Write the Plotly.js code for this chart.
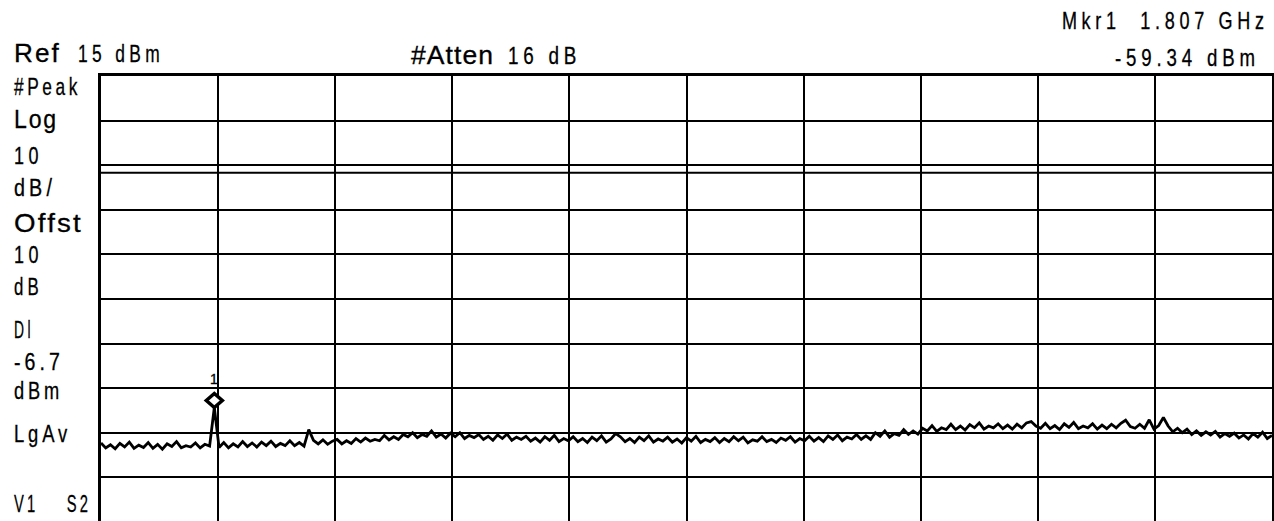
<!DOCTYPE html>
<html>
<head>
<meta charset="utf-8">
<script src="https://cdn.plot.ly/plotly-3.0.1.min.js"></script>
<style>
html,body{margin:0;padding:0;background:#fff;}
#chart{width:1274px;height:521px;}
#chart .annotation-text{stroke:#000;stroke-width:0.3px;}
</style>
</head>
<body>
<div id="chart"></div>
<script>
// ---- data ----
const refLevel = 15;          // dBm (top of screen)
const dbPerDiv = 10;
const bottomLevel = -84.8;    // visible bottom of screen
const startFreq = 1.795;      // GHz
const stopFreq = 1.919;       // GHz
const displayLine = -6.7;     // dBm
const mkrFreq = 1.807;        // GHz
const mkrLevel = -59.34;      // dBm
const traceLevels = [
  -67.3,-68.4,-67.7,-68.6,-67.4,-68.2,-67.1,-68.5,-67.8,-68.3,
  -67.2,-68.5,-67.6,-68.7,-67.5,-68.1,-67.0,-68.4,-67.9,-68.2,
  -67.3,-68.4,-67.6,-68.0,-59.34,-68.3,-67.2,-68.4,-67.5,-68.2,
  -67.0,-68.1,-67.3,-68.2,-67.1,-67.9,-66.9,-68.1,-67.4,-67.9,
  -66.8,-67.9,-67.2,-68.0,-64.3,-66.7,-67.5,-66.6,-67.6,-66.9,
  -66.5,-67.5,-66.8,-67.4,-66.3,-67.1,-66.2,-66.9,-66.5,-66.8,
  -65.6,-66.6,-65.9,-66.5,-65.4,-65.9,-65.0,-66.1,-65.4,-65.8,
  -64.6,-66.0,-65.3,-66.2,-65.1,-65.9,-65.0,-66.3,-65.6,-66.1,
  -65.4,-66.5,-65.8,-66.7,-65.5,-66.3,-65.3,-66.7,-66.0,-66.5,
  -65.8,-66.9,-66.2,-67.1,-65.9,-66.7,-65.6,-67.0,-66.3,-66.8,
  -65.9,-67.0,-66.3,-67.2,-66.0,-66.8,-65.7,-67.1,-66.4,-65.2,
  -65.9,-67.0,-66.3,-67.2,-66.0,-66.8,-65.7,-67.1,-66.4,-66.9,
  -66.0,-67.1,-66.4,-67.3,-66.1,-66.9,-65.8,-67.2,-66.5,-67.0,
  -66.1,-67.2,-66.3,-67.0,-65.9,-66.8,-66.0,-67.3,-66.6,-66.9,
  -65.9,-67.0,-66.5,-67.2,-66.2,-66.7,-65.9,-67.1,-66.3,-66.8,
  -65.8,-66.9,-66.1,-67.0,-65.7,-66.5,-65.5,-66.8,-66.0,-66.4,
  -65.4,-66.5,-65.7,-66.5,-65.0,-65.8,-64.6,-66.0,-65.2,-65.6,
  -64.3,-65.4,-64.6,-65.3,-64.0,-64.6,-63.4,-64.7,-63.9,-64.3,
  -63.1,-64.3,-63.5,-64.4,-63.2,-63.9,-62.8,-64.2,-63.5,-63.9,
  -63.0,-64.1,-63.3,-64.2,-63.1,-63.9,-62.8,-62.5,-63.5,-64.0,
  -62.9,-64.1,-63.4,-64.3,-63.0,-63.8,-62.7,-64.1,-63.5,-63.9,
  -63.0,-64.2,-63.3,-64.1,-63.1,-63.9,-62.9,-62.2,-63.6,-64.0,
  -63.1,-64.0,-62.1,-64.2,-63.4,-61.6,-63.5,-64.8,-64.0,-65.0,
  -64.2,-65.4,-64.6,-65.6,-64.8,-65.5,-64.7,-66.0,-65.2,-65.8,
  -65.1,-66.2,-65.5,-66.4,-65.2,-66.0,-64.9,-66.3,-65.6
];
const leftLabels = ['#Peak','Log','10','dB/','Offst','10','dB','Dl','-6.7','dBm','LgAv','V1  S2'];
const headerRef = 'Ref';
const headerRefVal = '15 dBm';
const headerAtten = '#Atten';
const headerAttenVal = '16 dB';
const mkrLine1 = 'Mkr1  1.807 GHz';
const mkrLine2 = '-59.34 dBm';
const mkrLabel = '1';

// ---- layout helpers ----
const W = 1274, H = 521, L = 101, R = 2, T = 76, B = 0;
const pw = W - L - R, ph = H - T - B;
const px = x => (x - L) / pw;
const py = y => (H - B - y) / ph;
const FONT = '"Liberation Sans",Arial,"DejaVu Sans",sans-serif';

const annotations = [];
const fits = [];   // target rendered widths (px) used to condense the lettering
function ann(text, x, y, size, spacing, width, anchor) {
  annotations.push({
    text: '<span style="letter-spacing:' + spacing + 'px">' + text + '</span>',
    xref: 'paper', yref: 'paper', x: px(x), y: py(y),
    xanchor: anchor || 'left', yanchor: 'middle', showarrow: false,
    borderpad: 0, font: {family: FONT, size: size, color: '#000'}
  });
  fits.push({w: width, anchor: anchor || 'left'});
}

// left column: [centre y, size, letter spacing, width]
const leftFmt = [
  [86, 24, 5, 67], [119, 25, 2, 44], [155, 24, 6, 29], [187, 24, 5, 42],
  [223, 25, 2, 69], [254, 24, 6, 29], [286, 24, 6, 29], [329, 24, 6, 20],
  [361, 24, 5, 50], [390, 24, 5, 49], [433, 24, 5, 57], [503, 24, 5, 77]
];
leftLabels.forEach((t, i) => {
  const f = leftFmt[i];
  ann(t.replace(/  /g, '&nbsp;&nbsp;&nbsp;&nbsp;'), 13, f[0], f[1], f[2], f[3]);
});
ann(headerRef, 13, 53, 25, 2, 47);
ann(headerRefVal, 77, 53, 24, 6, 86);
ann(headerAtten, 410, 55, 25, 1, 83);
ann(headerAttenVal, 507, 55, 24, 6, 73);
ann(mkrLine1.replace(/  /g, '&nbsp;&nbsp;'), 1270, 21, 23, 6, 207, 'right');
ann(mkrLine2, 1261, 58, 23, 6, 145, 'right');
annotations.push({
  text: mkrLabel, x: mkrFreq, y: mkrLevel, xref: 'x', yref: 'y',
  showarrow: false, yshift: 28, font: {family: FONT, size: 14, color: '#000'}
});

const shapes = [
  {type: 'line', xref: 'paper', yref: 'y', x0: 0, x1: 1, y0: displayLine, y1: displayLine,
   line: {color: '#000', width: 2}},
  {type: 'path', xref: 'x', yref: 'y', xsizemode: 'pixel', ysizemode: 'pixel',
   xanchor: mkrFreq, yanchor: mkrLevel,
   path: 'M0,0 L8,7 L0,14 L-8,7 Z',
   line: {color: '#000', width: 3.5}, fillcolor: 'rgba(255,255,255,1)'}
];

const nPts = traceLevels.length;
const trace = {
  type: 'scatter', mode: 'lines',
  x0: startFreq, dx: (stopFreq - startFreq) / (nPts - 1),
  y: traceLevels,
  line: {color: '#000', width: 2.8},
  hoverinfo: 'skip'
};

const layout = {
  width: W, height: H,
  margin: {l: L, r: R, t: T, b: B, pad: 0},
  paper_bgcolor: '#fff', plot_bgcolor: '#fff',
  showlegend: false,
  xaxis: {
    range: [startFreq, stopFreq], tick0: startFreq, dtick: (stopFreq - startFreq) / 10,
    showgrid: true, gridcolor: '#000', gridwidth: 2, zeroline: false,
    showticklabels: false, ticks: '',
    showline: true, linecolor: '#000', linewidth: 3.5, mirror: true
  },
  yaxis: {
    range: [bottomLevel, refLevel], tick0: refLevel, dtick: dbPerDiv,
    showgrid: true, gridcolor: '#000', gridwidth: 2, zeroline: false,
    showticklabels: false, ticks: '',
    showline: true, linecolor: '#000', linewidth: 3.5, mirror: true
  },
  annotations: annotations,
  shapes: shapes
};

Plotly.newPlot('chart', [trace], layout, {displayModeBar: false, staticPlot: true}).then(gd => {
  // condense the lettering like the analyzer's narrow font
  gd.querySelectorAll('.annotation').forEach(g => {
    const i = +g.getAttribute('data-index');
    const fit = fits[i];
    if (!fit) return;
    const t = g.querySelector('text.annotation-text');
    if (!t) return;
    const bb = t.getBBox();
    if (!bb.width) return;
    const sx = fit.w / bb.width;
    const ax = fit.anchor === 'right' ? bb.x + bb.width : bb.x;
    t.setAttribute('transform', 'translate(' + ax + ',0) scale(' + sx + ',1) translate(' + (-ax) + ',0)');
  });
});
</script>
</body>
</html>
